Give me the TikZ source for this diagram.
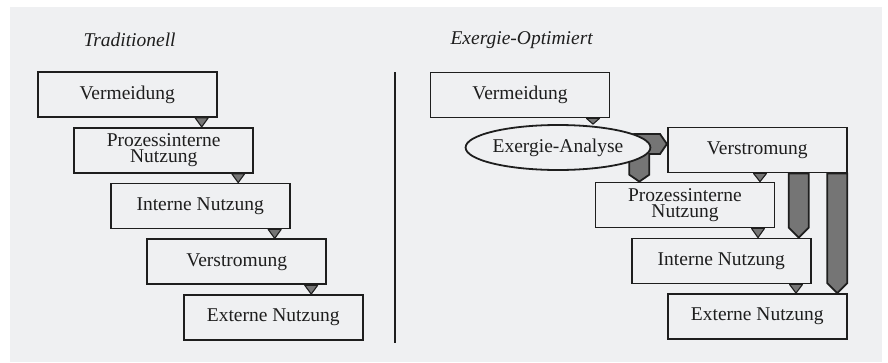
\documentclass[tikz,border=0pt]{standalone}
\usepackage{fontspec}
\setmainfont{Liberation Serif}
\usepackage{tikz}
\usetikzlibrary{shapes.geometric,positioning,calc}

\definecolor{paper}{HTML}{EFF0F2}
\definecolor{ink}{HTML}{1E1E1E}
\definecolor{flow}{HTML}{757575}

% small step triangle between two stages
\newcommand{\drop}[3]{\filldraw[drop] (#3-6.5,0 |- #1.south) -- (#3+6.5,0 |- #1.south) -- (#3,0 |- #2.north) -- cycle;}
% broad grey arrow going down
\newcommand{\pipe}[3]{\filldraw[pipe] (#1-10,0 |- #2.south) -- (#1+10,0 |- #2.south) -- ($(#1+10,0 |- #3.north)+(0,-10)$) -- (#1,0 |- #3.north) -- ($(#1-10,0 |- #3.north)+(0,-10)$) -- cycle;}

\begin{document}
\begin{tikzpicture}[
            x=1pt, y=-1pt,
            stage/.style={draw=ink, line width=1.8pt, fill=paper, text=ink,
                minimum width=179pt, minimum height=45pt, inner sep=0pt,
                align=center, font=\fontsize{19.5}{16.5}\selectfont},
            analysis/.style={stage, ellipse, minimum width=180pt, minimum height=45pt},
            head/.style={anchor=west, text=ink, font=\itshape\fontsize{19.5}{22}\selectfont},
            drop/.style={fill=flow, draw=ink, line width=1.1pt, line join=round},
            pipe/.style={fill=flow, draw=ink, line width=1.8pt}
        ]
        
        % Background
        \fill[white] (0,0) rectangle (888,362);
        \fill[paper] (10,7) rectangle (882,362);
        
        % Traditionell
        \node[head] (tt) at (80,40) {Traditionell};
        \node[stage] (tvm) at (127.2,94.5) {Vermeidung};
        \node[stage] (tpi) at (163.7,150.3) {Prozessinterne\\Nutzung};
        \node[stage] (tin) at (200.2,206) {Interne Nutzung};
        \node[stage] (tvs) at (236.7,261.8) {Verstromung};
        \node[stage] (tex) at (273.2,317.5) {Externe Nutzung};
        
        \drop{tvm}{tpi}{201.7}
        \drop{tpi}{tin}{238.2}
        \drop{tin}{tvs}{274.7}
        \drop{tvs}{tex}{311.2}
        
        % Divider
        \draw[ink, line width=1.8pt] (395,72) -- (395,343);
        
        % Exergie-Optimiert
        \node[head] (et) at (447,40) {Exergie-Optimiert};
        \node[stage] (evm) at (520,95) {Vermeidung};
        \node[stage] (evs) at (757.3,150) {Verstromung};
        \node[stage] (epi) at (685,205) {Prozessinterne\\Nutzung};
        \node[stage] (ein) at (721.3,261) {Interne Nutzung};
        \node[stage] (eex) at (757.3,316.5) {Externe Nutzung};
        
        % Grey arrows
        \filldraw[pipe] (626,141) -- (634,134) -- (660,134) -- (evs.west |- 0,144)
            -- (660,154) -- (649.3,154) -- (649.3,174.7) -- (639.3,0 |- epi.north)
            -- (629.3,174.7) -- (629.3,150) -- cycle;
        \pipe{798.7}{evs}{ein}
        \pipe{837.3}{evs}{eex}
        
        \node[analysis] (exa) at (558,147.5) {Exergie-Analyse};
        
        \drop{evm}{exa}{593}
        \drop{evs}{epi}{760}
        \drop{epi}{ein}{758}
        \drop{ein}{eex}{796}
        \end{tikzpicture}
\end{document}
